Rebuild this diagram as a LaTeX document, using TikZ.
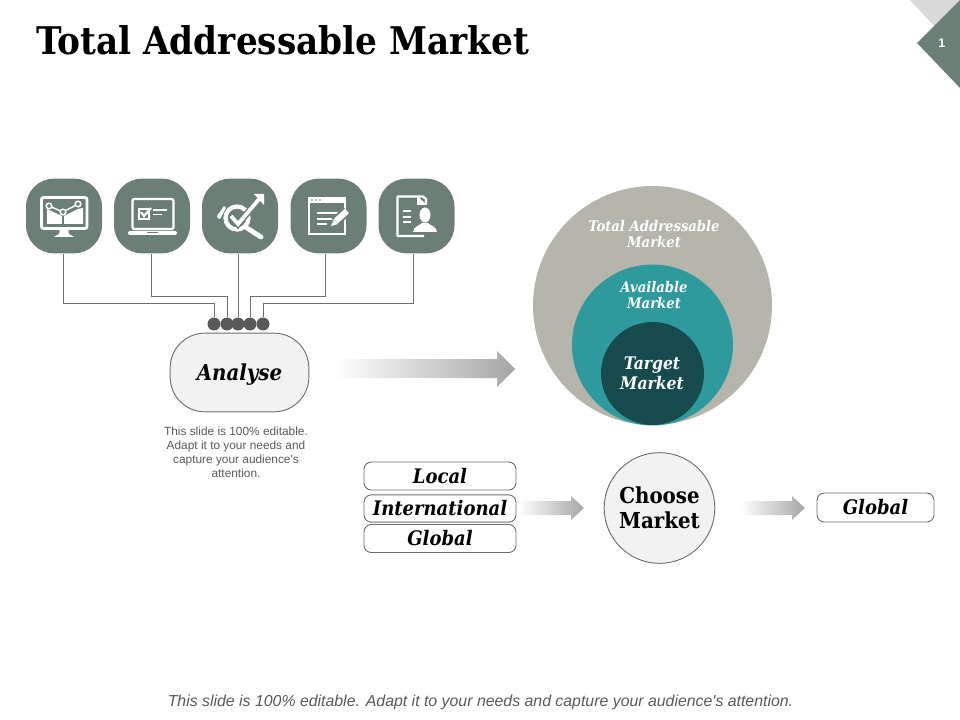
\documentclass[tikz,border=0pt]{standalone}
\usepackage{fontspec}
\setmainfont{Liberation Sans}
\newfontfamily\geo{DejaVu Serif Condensed}
\definecolor{sage}{HTML}{6B7F77}
\definecolor{dotgray}{HTML}{595959}
\definecolor{linegray}{HTML}{6E6E6E}
\definecolor{boxfill}{HTML}{F2F2F2}
\definecolor{stone}{HTML}{B5B5AB}
\definecolor{teal1}{HTML}{2F9A9E}
\definecolor{deep}{HTML}{174A4D}
\definecolor{ar}{HTML}{A6A6A6}
\newcommand{\fs}[2]{\fontsize{#1}{#2}\selectfont}
\tikzset{
  x=0.75pt,y=-0.75pt,
  iconbox/.style={fill=sage,rounded corners=21pt,minimum width=57pt,minimum height=56pt,inner sep=0pt},
  pin/.style={circle,fill=dotgray,minimum size=9.75pt,inner sep=0pt},
  wire/.style={draw=linegray,line width=0.75pt},
  softbox/.style={draw=linegray,fill=boxfill,line width=0.7pt,rounded corners=26pt,inner sep=0pt},
  tag/.style={draw=linegray,fill=white,line width=0.7pt,rounded corners=5.5pt,inner sep=0pt,font=\geo\bfseries\itshape\fs{15}{18}},
  ring/.style={circle,inner sep=0pt},
  lab/.style={align=center,text=white,font=\geo\bfseries\itshape,inner sep=0pt},
  gl/.style={draw=white,line width=1.7pt},
  gf/.style={fill=white},
  fade/.style={left color=white,right color=ar,draw=none,shading angle=90},
}
\begin{document}
\begin{tikzpicture}
\useasboundingbox (0,0) rectangle (960,720);
% corner
\fill[gray!30] (910,0) -- (960,0) -- (935,27) -- cycle;
\fill[sage] (917,43) -- (960,0) -- (960,88) -- cycle;
\node[text=white,font=\bfseries\fs{9.5}{11},inner sep=0pt] (num) at (942,43) {1};
% title
\node[anchor=west,inner sep=0pt,font=\geo\bfseries\fs{28.6}{32}] (title) at (36,40) {Total Addressable Market};
% icon boxes
\node[iconbox] (i1) at (64,216) {};
\node[iconbox] (i2) at (152,216) {};
\node[iconbox] (i3) at (240,216) {};
\node[iconbox] (i4) at (328.5,216) {};
\node[iconbox] (i5) at (416.5,216) {};
% pins
\node[pin] (d1) at (214,324) {};
\node[pin] (d2) at (227,324) {};
\node[pin] (d3) at (238,324) {};
\node[pin] (d4) at (250,324) {};
\node[pin] (d5) at (263,324) {};
% connectors
\draw[wire] ([xshift=-0.75pt]i1.south) -- ([xshift=-0.75pt]i1.south |- 0,304) -| (d1.north);
\draw[wire] ([xshift=-0.75pt]i2.south) -- ([xshift=-0.75pt]i2.south |- 0,297) -| (d2.north);
\draw[wire] (d3.north) -- (d3.north |- i3.south);
\draw[wire] ([xshift=-1.9pt]i4.south) -- ([xshift=-1.9pt]i4.south |- 0,297) -| (d4.north);
\draw[wire] ([xshift=-1.9pt]i5.south) -- ([xshift=-1.9pt]i5.south |- 0,304) -| (d5.north);
% Icon 1 monitor
\draw[draw=white,line width=2.1pt,rounded corners=1.5pt] (41.5,197.5) rectangle (87,228.5);
\fill[gf] (60,229) -- (68,229) -- (69,234) -- (74,237) -- (54,237) -- (59,234) -- cycle;
\fill[gf] (47,224) -- (47,209) -- (63,216.5) -- (78,209) -- (83,208) -- (83,224) -- cycle;
\draw[draw=sage,line width=0.8pt] (63,216) -- (63,224);
\draw[draw=white,line width=1.1pt] (49,206) -- (63,212) -- (78,204);
\foreach \p in {(49,206),(63,212),(78,204)} \draw[draw=white,fill=sage,line width=1.1pt] \p circle[radius=2.8];
% Icon 2 laptop
\draw[gl,rounded corners=1.5pt] (132.5,199) rectangle (173.5,229);
\fill[gf,rounded corners=1pt] (128,231) rectangle (177,235);
\draw[draw=sage,line width=0.7pt] (147,232.5) -- (158,232.5);
\draw[draw=white,line width=1.2pt] (139,209) rectangle (149,219);
\draw[draw=white,line width=1.6pt] (141,212) -- (144,216) -- (151,208);
\draw[draw=white,line width=1.3pt] (153,210) -- (167,210);
\draw[draw=white,line width=1.3pt] (153,214.5) -- (162,214.5);
% Icon 3 target
\draw[draw=white,line width=3.2pt] (237,218) circle[radius=11.5];
\draw[draw=white,line width=3.6pt,line cap=round] (247,228) -- (261,237);
\fill[gf] (217,216) -- (224,206) -- (226,208) -- (220,219) .. controls (218,219) and (217,218) .. (217,216) -- cycle;
\draw[draw=sage,line width=5pt] (232,216) -- (238,224) -- (260,198);
\draw[draw=white,line width=2.8pt] (231,216) -- (238,224) -- (260,198);
\fill[gf] (254,194) -- (264,194) -- (264,205) -- cycle;
% Icon 4 window
\draw[gl] (309,198.5) rectangle (345,234);
\fill[gf] (308,197) rectangle (346,203);
\foreach \q in {312,316,320} \fill[sage] (\q,200) circle[radius=0.9];
\draw[draw=white,line width=1.3pt] (317,213) -- (338,213);
\draw[draw=white,line width=1.3pt] (317,219) -- (335,219);
\draw[draw=white,line width=1.3pt] (317,224) -- (327,224);
\draw[draw=sage,line width=7.5pt] (335,222) -- (347,211);
\draw[draw=white,line width=4.5pt] (336,221) -- (347,211);
\fill[gf] (331,226) -- (334,219) -- (338,224) -- cycle;
% Icon 5 document
\draw[gl,line join=round] (426,206) -- (426,199) -- (423,196.5) -- (397.5,196.5) -- (397.5,236) -- (424,236);
\fill[gf] (417,196) -- (427,205) -- (417,205) -- cycle;
\draw[draw=white,line width=1pt] (403,211) -- (415,211);
\draw[draw=white,line width=1pt] (403,217) -- (415,217);
\draw[draw=white,line width=1pt] (403,222) -- (413,222);
\fill[sage] (411,205) rectangle (440,234);
\fill[gf] (425,215) ellipse[x radius=5.5,y radius=7.5];
\fill[gf] (413,232) .. controls (414,226) and (419,226) .. (422,223) -- (428,223) .. controls (431,226) and (436,226) .. (437,232) -- cycle;
% Analyse
\node[softbox,minimum width=104pt,minimum height=59pt,text depth=0pt,font=\geo\bfseries\itshape\fs{16.5}{20}] (an) at (239.5,372.5) {Analyse};
\node[align=center,text=dotgray,inner sep=0pt,font=\fs{8.9}{10.6}] (note) at (236,452) {This slide is 100\% editable.\\Adapt it to your needs and\\capture your audience\textquotesingle s\\attention.};
% big arrow
\shade[fade] (335,359) -- (497,359) -- (497,351) -- (515,369) -- (497,387) -- (497,378) -- (335,378) -- cycle;
% circles
\node[ring,fill=stone,minimum size=179.25pt] (c1) at (652.5,305.5) {};
\node[ring,fill=teal1,minimum size=120.75pt] (c2) at (652.5,345) {};
\node[ring,fill=deep,minimum size=77.25pt] (c3) at (652.5,373.5) {};
\node[lab,font=\geo\bfseries\itshape\fs{11}{11.5}] (l1) at (654,234) {Total Addressable\\Market};
\node[lab,font=\geo\bfseries\itshape\fs{11}{11.5}] (l2) at (654,295) {Available\\Market};
\node[lab,font=\geo\bfseries\itshape\fs{13}{15}] (l3) at (652,373.5) {Target\\Market};
% tags
\node[tag,minimum width=114pt,minimum height=21pt] (t1) at (440,476) {Local};
\node[tag,minimum width=114pt,minimum height=20.5pt] (t2) at (440,508.5) {International};
\node[tag,minimum width=114pt,minimum height=21pt] (t3) at (440,538.5) {Global};
\shade[fade] (518,501) -- (571,501) -- (571,496) -- (584,508) -- (571,520) -- (571,515) -- (518,515) -- cycle;
\node[softbox,circle,minimum size=83pt,align=center,font=\geo\bfseries\fs{16.5}{19}] (cm) at (659.5,508) {Choose\\Market};
\shade[fade] (740,501) -- (792,501) -- (792,496) -- (805,508) -- (792,520) -- (792,515) -- (740,515) -- cycle;
\node[tag,minimum width=87.75pt,minimum height=21.75pt] (t4) at (875.5,507.5) {Global};
% footer
\node[text=dotgray,inner sep=0pt,font=\itshape\fs{11.9}{14}] (foot) at (480.5,702) {This slide is 100\% editable. Adapt it to your needs and capture your audience\textquotesingle s attention.};
\end{tikzpicture}
\end{document}
